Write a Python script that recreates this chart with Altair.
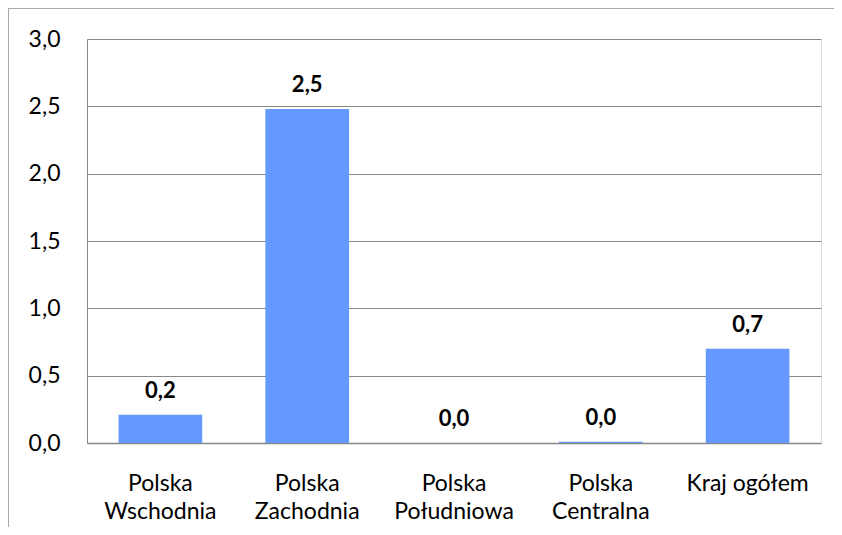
import altair as alt
import pandas as pd

categories = ["Polska Wschodnia", "Polska Zachodnia", "Polska Południowa", "Polska Centralna", "Kraj ogółem"]
values = [0.21, 2.48, 0.0, 0.01, 0.70]
labels = ["0,2", "2,5", "0,0", "0,0", "0,7"]

df = pd.DataFrame({"cat": categories, "val": values, "lab": labels})

FONT = "Lato"

x = alt.X("cat:N", sort=categories, title=None,
          scale=alt.Scale(paddingInner=0.43, paddingOuter=0.215),
          axis=alt.Axis(labelAngle=0, labelFontSize=23, labelColor="#000", labelFont=FONT,
                        labelExpr="split(datum.label, ' ')[0] == 'Kraj' ? datum.label : split(datum.label, ' ')",
                        labelLineHeight=28, labelPadding=29, ticks=False,
                        domainColor="#888", domainWidth=1.5, grid=False))
y = alt.Y("val:Q", title=None,
          scale=alt.Scale(domain=[0, 3]),
          axis=alt.Axis(values=[0, 0.5, 1, 1.5, 2, 2.5, 3], labelExpr="replace(format(datum.value, '.1f'), '.', ',')",
                        labelFontSize=23, labelColor="#000", labelFont=FONT, ticks=False, labelPadding=27,
                        domainColor="#888", gridColor="#888", gridWidth=1))

bars = alt.Chart(df).mark_bar(color="#6699ff").encode(x=x, y=y)
text = alt.Chart(df).mark_text(fontSize=22, fontWeight="bold", font=FONT, baseline="alphabetic", dy=-17, color="#000").encode(
    x=alt.X("cat:N", sort=categories), y="val:Q", text="lab:N")

frame_top = alt.Chart(df).mark_rule(color="#aaa", strokeWidth=1).encode(
    x=alt.value(-79), x2=alt.value(760), y=alt.value(-30.5))
frame_left = alt.Chart(df).mark_rule(color="#aaa", strokeWidth=1).encode(
    x=alt.value(-78.5), y=alt.value(-31), y2=alt.value(500))

chart = alt.layer(bars, text, frame_top, frame_left).properties(
    width=734, height=404,
    autosize=alt.AutoSizeParams(type="none"),
    padding={"left": 79, "top": 31, "right": 13, "bottom": 84},
).configure_view(stroke=None).configure(background="white")

chart.save("out.html", embed_options={"renderer": "svg", "actions": False})
